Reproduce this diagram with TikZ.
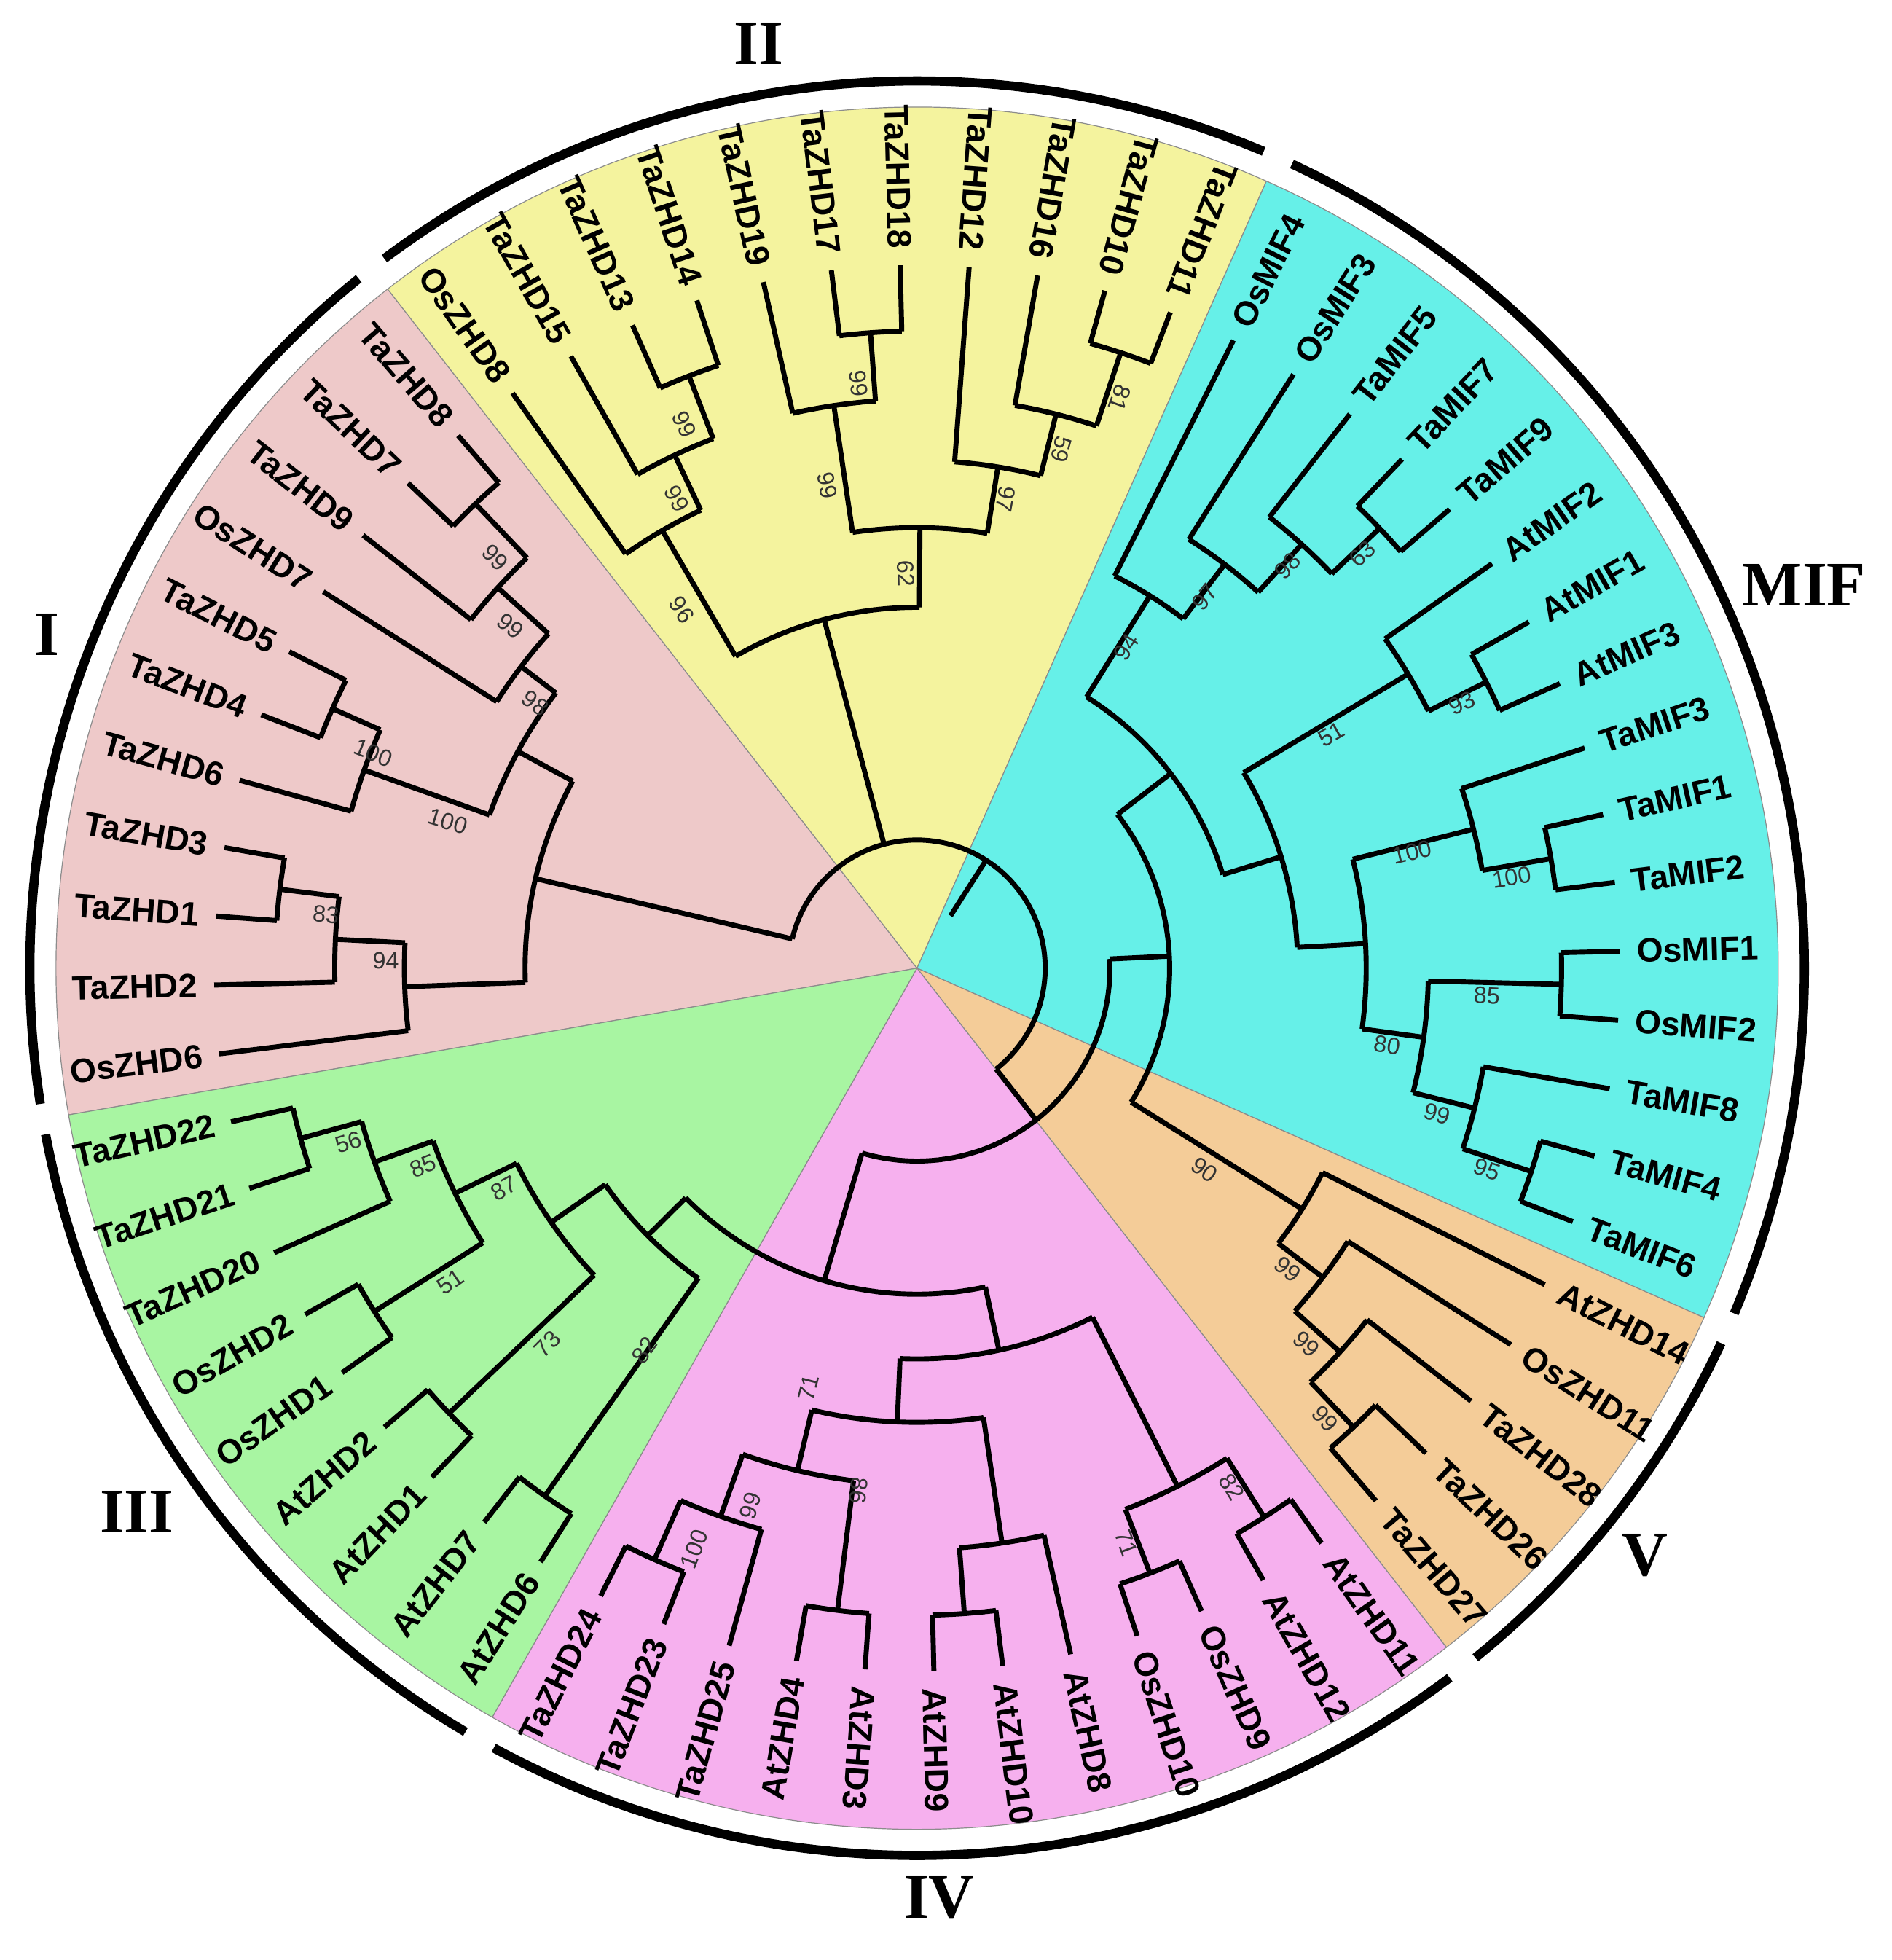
\documentclass[tikz,border=0pt]{standalone}
\usepackage{fontspec}
\setmainfont{Liberation Serif}
\newfontfamily\labfont{Liberation Sans}
\definecolor{cI}{HTML}{EEC9C9}
\definecolor{cII}{HTML}{F4F39E}
\definecolor{cMIF}{HTML}{66F0E8}
\definecolor{cV}{HTML}{F4CC98}
\definecolor{cIV}{HTML}{F6B0EE}
\definecolor{cIII}{HTML}{A8F5A2}
\tikzset{
  br/.style={line width=1.15pt,line cap=butt,line join=miter},
  leaf/.style={font=\labfont\bfseries\fontsize{7.7}{9}\selectfont,inner sep=0pt},
  bs/.style={font=\labfont\fontsize{5.4}{6}\selectfont,text=black!80,inner sep=0pt},
  grp/.style={font=\bfseries\fontsize{14.5}{16}\selectfont,inner sep=0pt},
  outer/.style={line width=2.1pt},
  wedge/.style={draw=black!45,line width=0.2pt}
}
\newcommand\Wedge[3]{\filldraw[wedge,fill=#1] (0,0) -- (#2:692) arc[start angle=#2,end angle=#3,radius=692] -- cycle;}
\newcommand\Outer[2]{\draw[outer] (#1:713) arc[start angle=#1,end angle=#2,radius=713];}
% \Node{r}{parent r}{angle}{a1}{a2}
\newcommand\Node[5]{\draw[br] (#3:#2) -- (#3:#1); \draw[br] (#4:#1) arc[start angle=#4,end angle=#5,radius=#1];}
% \Leaf{index}{parent r}{text}
\newcommand\Leaf[3]{%
  \pgfmathsetmacro\la{187-5.625*#1}%
  \pgfmathsetmacro\lb{mod(\la+720,360)}%
  \draw[br] (\la:#2) -- (\la:565);
  \ifdim\lb pt>66pt\relax
    \ifdim\lb pt<263pt\relax
      \node[leaf,anchor=east,rotate=\lb+180] (L#1) at (\la:578) {#3};
    \else
      \node[leaf,anchor=west,rotate=\lb] (L#1) at (\la:578) {#3};
    \fi
  \else
    \node[leaf,anchor=west,rotate=\lb] (L#1) at (\la:578) {#3};
  \fi}
% \Bs{X}{Y}{text} in reference display coordinates
\newcommand\Bs[3]{%
  \pgfmathsetmacro\bx{#1-737}%
  \pgfmathsetmacro\by{778-#2}%
  \pgfmathsetmacro\bb{mod(atan2(\by,\bx)+720,360)}%
  \ifdim\bb pt>66pt\relax
    \ifdim\bb pt<263pt\relax \pgfmathsetmacro\bro{\bb+180}\else\let\bro\bb\fi
  \else\let\bro\bb\fi
  \node[bs,rotate=\bro] (B#1x#2) at (\bx,\by) {#3};}
\begin{document}
\begin{tikzpicture}[x=0.01cm,y=0.01cm]
\useasboundingbox (-737,-797) rectangle (783,778);
\fill[white] (-737,-797) rectangle (783,778);
% sectors
\Wedge{cI}{127.94}{189.81}
\Wedge{cII}{66.06}{127.94}
\Wedge{cMIF}{-23.94}{66.06}
\Wedge{cV}{-52.06}{-23.94}
\Wedge{cIV}{-119.56}{-52.06}
\Wedge{cIII}{-170.19}{-119.56}
% outer arcs
\Outer{129}{188.8}
\Outer{67}{126.9}
\Outer{-22.9}{65}
\Outer{-51}{-25}
\Outer{-118.5}{-53.1}
\Outer{-169.2}{-120.6}
% group labels
\node[grp] (gI) at (-699,268) {I};
\node[grp] (gII) at (-127,743) {II};
\node[grp] (gMIF) at (713,308) {MIF};
\node[grp] (gV) at (585,-472) {V};
\node[grp] (gIV) at (18,-747) {IV};
\node[grp] (gIII) at (-627,-437) {III};
% root
\Node{103}{50}{57.4}{166.79}{-51.9}
% clade I
\Node{315}{103}{166.79}{182.08}{151.49}
\Node{365}{315}{151.49}{160.28}{142.70}
\Node{400}{365}{142.70}{147.625}{137.78}
\Node{455}{400}{137.78}{142}{133.56}
\Node{515}{455}{133.56}{136.375}{130.75}
\Node{472}{365}{160.28}{164.5}{156.06}
\Node{514}{472}{156.06}{158.875}{153.25}
\Node{412}{315}{182.08}{187}{177.16}
\Node{468}{412}{177.16}{181.375}{172.94}
\Node{516}{468}{172.94}{175.75}{170.125}
% clade II
\Node{290}{103}{104.91}{120.20}{89.62}
\Node{407}{290}{120.20}{125.125}{115.28}
\Node{456}{407}{115.28}{119.5}{111.06}
\Node{510}{456}{111.06}{113.875}{108.25}
\Node{354}{290}{89.62}{98.41}{80.83}
\Node{457}{354}{98.41}{102.625}{94.19}
\Node{512}{457}{94.19}{97}{91.375}
\Node{408}{354}{80.83}{85.75}{75.91}
\Node{459}{408}{75.91}{80.125}{71.69}
\Node{521}{459}{71.69}{74.5}{68.875}
% rest
\Node{155}{103}{-51.9}{2.73}{-106.55}
\Node{203}{155}{2.73}{37.5}{-32.03}
% MIF
\Node{257}{203}{37.5}{57.98}{17.02}
\Node{353}{257}{57.98}{63.25}{52.70}
\Node{408}{353}{52.70}{57.625}{47.78}
\Node{460}{408}{47.78}{52}{43.56}
\Node{513}{460}{43.56}{46.375}{40.75}
\Node{306}{257}{17.02}{30.91}{3.13}
\Node{460}{306}{30.91}{35.125}{26.69}
\Node{512}{460}{26.69}{29.5}{23.875}
\Node{361}{306}{3.13}{14.03}{-7.77}
\Node{461}{361}{14.03}{18.25}{9.81}
\Node{517}{461}{9.81}{12.625}{7}
\Node{411}{361}{-7.77}{-1.44}{-14.09}
\Node{518}{411}{-1.44}{1.375}{-4.25}
\Node{462}{411}{-14.09}{-9.875}{-18.31}
\Node{520}{462}{-18.31}{-15.5}{-21.125}
% V
\Node{365}{203}{-32.03}{-26.75}{-37.30}
\Node{410}{365}{-37.30}{-32.375}{-42.22}
\Node{459}{410}{-42.22}{-38}{-46.44}
\Node{509}{459}{-46.44}{-43.625}{-49.25}
% III+IV
\Node{262}{155}{-106.55}{-77.9}{-135.21}
% IV
\Node{314}{262}{-77.9}{-63.31}{-92.49}
\Node{365}{314}{-92.49}{-81.59}{-103.39}
\Node{415}{365}{-103.39}{-97.06}{-109.72}
\Node{468}{415}{-109.72}{-105.5}{-113.94}
\Node{520}{468}{-113.94}{-111.125}{-116.75}
\Node{520}{415}{-97.06}{-94.25}{-99.875}
\Node{467}{365}{-81.59}{-77.375}{-85.81}
\Node{520}{467}{-85.81}{-83}{-88.625}
\Node{466}{314}{-63.31}{-57.69}{-68.94}
\Node{522}{466}{-57.69}{-54.875}{-60.5}
\Node{521}{466}{-68.94}{-66.125}{-71.75}
% III
\Node{305}{262}{-135.21}{-125.19}{-145.23}
\Node{519}{305}{-125.19}{-122.375}{-128}
\Node{358}{305}{-145.23}{-136.44}{-154.02}
\Node{519}{358}{-136.44}{-133.625}{-139.25}
\Node{413}{358}{-154.02}{-147.69}{-160.34}
\Node{516}{413}{-147.69}{-144.875}{-150.5}
\Node{463}{413}{-160.34}{-156.125}{-164.56}
\Node{514}{463}{-164.56}{-161.75}{-167.375}
% leaves
\Leaf{0}{412}{OsZHD6}
\Leaf{1}{468}{TaZHD2}
\Leaf{2}{516}{TaZHD1}
\Leaf{3}{516}{TaZHD3}
\Leaf{4}{472}{TaZHD6}
\Leaf{5}{514}{TaZHD4}
\Leaf{6}{514}{TaZHD5}
\Leaf{7}{400}{OsZHD7}
\Leaf{8}{455}{TaZHD9}
\Leaf{9}{515}{TaZHD7}
\Leaf{10}{515}{TaZHD8}
\Leaf{11}{407}{OsZHD8}
\Leaf{12}{456}{TaZHD15}
\Leaf{13}{510}{TaZHD13}
\Leaf{14}{510}{TaZHD14}
\Leaf{15}{457}{TaZHD19}
\Leaf{16}{512}{TaZHD17}
\Leaf{17}{512}{TaZHD18}
\Leaf{18}{408}{TaZHD12}
\Leaf{19}{459}{TaZHD16}
\Leaf{20}{521}{TaZHD10}
\Leaf{21}{521}{TaZHD11}
\Leaf{22}{353}{OsMIF4}
\Leaf{23}{408}{OsMIF3}
\Leaf{24}{460}{TaMIF5}
\Leaf{25}{513}{TaMIF7}
\Leaf{26}{513}{TaMIF9}
\Leaf{27}{460}{AtMIF2}
\Leaf{28}{512}{AtMIF1}
\Leaf{29}{512}{AtMIF3}
\Leaf{30}{461}{TaMIF3}
\Leaf{31}{517}{TaMIF1}
\Leaf{32}{517}{TaMIF2}
\Leaf{33}{518}{OsMIF1}
\Leaf{34}{518}{OsMIF2}
\Leaf{35}{462}{TaMIF8}
\Leaf{36}{520}{TaMIF4}
\Leaf{37}{520}{TaMIF6}
\Leaf{38}{365}{AtZHD14}
\Leaf{39}{410}{OsZHD11}
\Leaf{40}{459}{TaZHD28}
\Leaf{41}{509}{TaZHD26}
\Leaf{42}{509}{TaZHD27}
\Leaf{43}{522}{AtZHD11}
\Leaf{44}{522}{AtZHD12}
\Leaf{45}{521}{OsZHD9}
\Leaf{46}{521}{OsZHD10}
\Leaf{47}{467}{AtZHD8}
\Leaf{48}{520}{AtZHD10}
\Leaf{49}{520}{AtZHD9}
\Leaf{50}{520}{AtZHD3}
\Leaf{51}{520}{AtZHD4}
\Leaf{52}{468}{TaZHD25}
\Leaf{53}{520}{TaZHD23}
\Leaf{54}{520}{TaZHD24}
\Leaf{55}{519}{AtZHD6}
\Leaf{56}{519}{AtZHD7}
\Leaf{57}{519}{AtZHD1}
\Leaf{58}{519}{AtZHD2}
\Leaf{59}{516}{OsZHD1}
\Leaf{60}{516}{OsZHD2}
\Leaf{61}{463}{TaZHD20}
\Leaf{62}{514}{TaZHD21}
\Leaf{63}{514}{TaZHD22}
% bootstrap values
\Bs{398}{448}{99}
\Bs{410}{503}{99}
\Bs{430}{565}{98}
\Bs{300}{605}{100}
\Bs{360}{660}{100}
\Bs{262}{735}{83}
\Bs{310}{772}{94}
\Bs{550}{341}{99}
\Bs{544}{401}{99}
\Bs{548}{490}{96}
\Bs{690}{308}{99}
\Bs{665}{390}{99}
\Bs{808}{401}{97}
\Bs{853}{361}{59}
\Bs{900}{320}{81}
\Bs{728}{461}{62}
\Bs{905}{520}{94}
\Bs{968}{480}{97}
\Bs{1035}{455}{98}
\Bs{1095}{445}{63}
\Bs{1175}{565}{93}
\Bs{1070}{590}{51}
\Bs{1135}{685}{100}
\Bs{1215}{705}{100}
\Bs{1195}{800}{85}
\Bs{1115}{840}{80}
\Bs{1155}{895}{99}
\Bs{1195}{940}{95}
\Bs{968}{940}{90}
\Bs{1035}{1020}{99}
\Bs{1050}{1080}{99}
\Bs{1065}{1140}{99}
\Bs{650}{1115}{71}
\Bs{603}{1210}{99}
\Bs{558}{1245}{100}
\Bs{690}{1198}{86}
\Bs{905}{1240}{71}
\Bs{990}{1195}{82}
\Bs{280}{918}{56}
\Bs{340}{937}{85}
\Bs{405}{955}{87}
\Bs{362}{1030}{51}
\Bs{440}{1080}{73}
\Bs{518}{1085}{82}
\end{tikzpicture}
\end{document}
